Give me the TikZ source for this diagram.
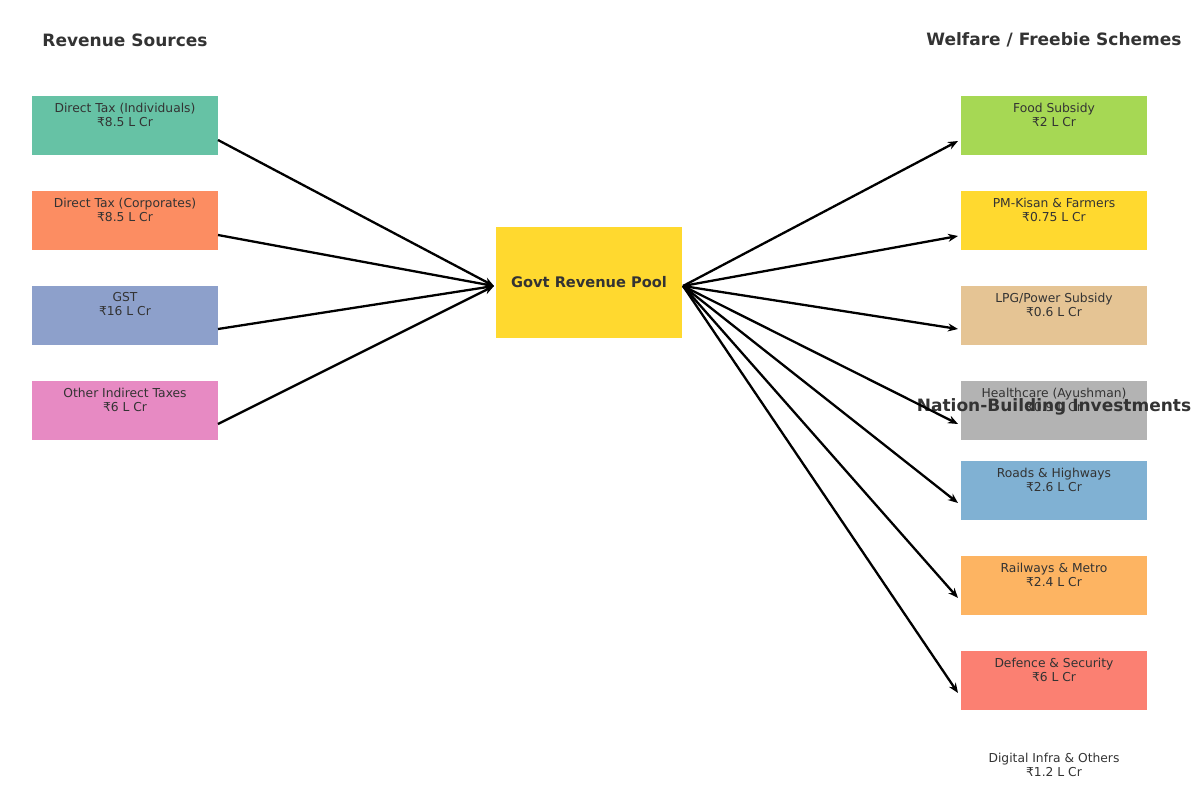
\documentclass[tikz,border=0pt]{standalone}
\usepackage{fontspec}
\setmainfont{DejaVu Sans}
\usetikzlibrary{arrows.meta}
\definecolor{txt}{HTML}{333333}
\definecolor{cA}{HTML}{66C2A5}
\definecolor{cB}{HTML}{FC8D62}
\definecolor{cC}{HTML}{8DA0CB}
\definecolor{cD}{HTML}{E78AC3}
\definecolor{cE}{HTML}{A6D854}
\definecolor{cF}{HTML}{FFD92F}
\definecolor{cG}{HTML}{E5C494}
\definecolor{cH}{HTML}{B3B3B3}
\definecolor{cI}{HTML}{80B1D3}
\definecolor{cJ}{HTML}{FDB462}
\definecolor{cK}{HTML}{FB8072}
\tikzset{
  box/.style={draw=none, minimum width=186pt, minimum height=59pt, inner sep=0pt, outer sep=0pt},
  boxtext/.style={anchor=north, align=center, text=txt, inner sep=0pt, font=\fontsize{12.3}{14}\selectfont},
  head/.style={text=txt, font=\fontsize{17}{20}\selectfont\bfseries, inner sep=0pt},
  flow/.style={draw=black, line width=2.3pt, -{Stealth[length=10pt,width=8pt]}}
}
\begin{document}
\begin{tikzpicture}[x=1pt,y=-1pt]
\useasboundingbox (0,0) rectangle (1200,788);
% headers
\node[head] (h1) at (125,40) {Revenue Sources};
\node[head] (h2) at (1054,40) {Welfare / Freebie Schemes};
% left boxes
\node[box, fill=cA] (s1) at (125,125.5) {};
\node[box, fill=cB] (s2) at (125,220.5) {};
\node[box, fill=cC] (s3) at (125,315.5) {};
\node[box, fill=cD] (s4) at (125,410.5) {};
\node[boxtext] (s1t) at ([yshift=-6.5pt]s1.north) {Direct Tax (Individuals)\\₹8.5 L Cr};
\node[boxtext] (s2t) at ([yshift=-6.5pt]s2.north) {Direct Tax (Corporates)\\₹8.5 L Cr};
\node[boxtext] (s3t) at ([yshift=-6.5pt]s3.north) {GST\\₹16 L Cr};
\node[boxtext] (s4t) at ([yshift=-6.5pt]s4.north) {Other Indirect Taxes\\₹6 L Cr};
% pool
\node[box, fill=cF, minimum height=111pt, text=txt, font=\fontsize{14.6}{17}\selectfont\bfseries] (pool) at (589,282.5) {Govt Revenue Pool};
\coordinate (pin) at (494,286);
\coordinate (pout) at (683,286);
% right boxes
\node[box, fill=cE] (r1) at (1054,125.5) {};
\node[box, fill=cF] (r2) at (1054,220.5) {};
\node[box, fill=cG] (r3) at (1054,315.5) {};
\node[box, fill=cH] (r4) at (1054,410.5) {};
\node[box, fill=cI] (r5) at (1054,490.5) {};
\node[box, fill=cJ] (r6) at (1054,585.5) {};
\node[box, fill=cK] (r7) at (1054,680.5) {};
\node[boxtext] (r1t) at ([yshift=-6.5pt]r1.north) {Food Subsidy\\₹2 L Cr};
\node[boxtext] (r2t) at ([yshift=-6.5pt]r2.north) {PM-Kisan \& Farmers\\₹0.75 L Cr};
\node[boxtext] (r3t) at ([yshift=-6.5pt]r3.north) {LPG/Power Subsidy\\₹0.6 L Cr};
\node[boxtext] (r4t) at ([yshift=-6.5pt]r4.north) {Healthcare (Ayushman)\\₹0.9 L Cr};
\node[boxtext] (r5t) at ([yshift=-6.5pt]r5.north) {Roads \& Highways\\₹2.6 L Cr};
\node[boxtext] (r6t) at ([yshift=-6.5pt]r6.north) {Railways \& Metro\\₹2.4 L Cr};
\node[boxtext] (r7t) at ([yshift=-6.5pt]r7.north) {Defence \& Security\\₹6 L Cr};
\node[boxtext] (r8t) at (1054,753) {Digital Infra \& Others\\₹1.2 L Cr};
\node[head] (h3) at (1054,406.5) {Nation-Building Investments};
% arrows in
\draw[flow] ([yshift=-14.5pt]s1.east) -- (pin);
\draw[flow] ([yshift=-14.5pt]s2.east) -- (pin);
\draw[flow] ([yshift=-13.5pt]s3.east) -- (pin);
\draw[flow] ([yshift=-13.5pt]s4.east) -- (pin);
% arrows out
\draw[flow] (pout) -- ([xshift=-3pt,yshift=-15.5pt]r1.west);
\draw[flow] (pout) -- ([xshift=-3pt,yshift=-15.5pt]r2.west);
\draw[flow] (pout) -- ([xshift=-3pt,yshift=-13.5pt]r3.west);
\draw[flow] (pout) -- ([xshift=-3pt,yshift=-13.5pt]r4.west);
\draw[flow] (pout) -- ([xshift=-3pt,yshift=-12.5pt]r5.west);
\draw[flow] (pout) -- ([xshift=-3pt,yshift=-12.5pt]r6.west);
\draw[flow] (pout) -- ([xshift=-3pt,yshift=-12.5pt]r7.west);
\end{tikzpicture}
\end{document}
